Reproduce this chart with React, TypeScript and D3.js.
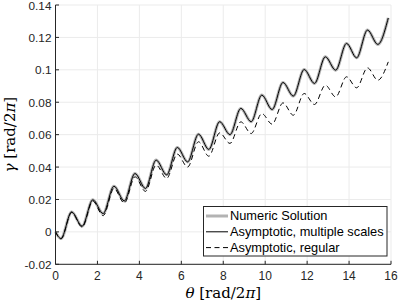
import React from 'react'
import * as d3 from 'd3'

const width = 399
const height = 305
const margin = { left: 55.5, right: 8, top: 5, bottom: 40.7 }

// theta positions of the curve extremes
const theta = [
  0, 0.26, 0.77, 1.27, 1.78, 2.27, 2.79, 3.28, 3.79, 4.29, 4.8, 5.3, 5.81, 6.3, 6.82, 7.31, 7.83, 8.32,
  8.84, 9.33, 9.84, 10.33, 10.85, 11.34, 11.86, 12.35, 12.87, 13.36, 13.88, 14.36, 14.88, 15.37, 15.87,
]
const numericGamma = [
  0, -0.0041, 0.0123, 0.0035, 0.0198, 0.0113, 0.0282, 0.0191, 0.036, 0.0268, 0.0443, 0.0352, 0.0521,
  0.0432, 0.0603, 0.0509, 0.068, 0.06, 0.0762, 0.068, 0.0844, 0.0755, 0.0922, 0.0838, 0.1002, 0.0916,
  0.108, 0.0998, 0.1163, 0.1074, 0.1245, 0.1157, 0.132,
]
const multiScaleGamma = [
  0, -0.0041, 0.0123, 0.0035, 0.0198, 0.0113, 0.0282, 0.0191, 0.036, 0.0268, 0.0443, 0.0352, 0.0521,
  0.0432, 0.0603, 0.0509, 0.068, 0.06, 0.0762, 0.068, 0.0844, 0.0755, 0.0922, 0.0838, 0.1002, 0.0916,
  0.108, 0.0998, 0.1163, 0.1074, 0.1245, 0.1157, 0.132,
]
const regularGamma = [
  0, -0.0043, 0.012, 0.003, 0.019, 0.01, 0.0268, 0.0178, 0.034, 0.025, 0.0412, 0.033, 0.048, 0.04,
  0.0556, 0.0467, 0.0611, 0.0546, 0.0679, 0.0607, 0.073, 0.0665, 0.0796, 0.072, 0.0854, 0.0786, 0.0905,
  0.0833, 0.0957, 0.0889, 0.1012, 0.0936, 0.1049,
]

const xTicks = [0, 2, 4, 6, 8, 10, 12, 14, 16]
const yTicks = [-0.02, 0, 0.02, 0.04, 0.06, 0.08, 0.1, 0.12, 0.14]
const legendLabels = ['Numeric Solution', 'Asymptotic, multiple scales', 'Asymptotic, regular']

const x = d3
  .scaleLinear()
  .domain([0, 16])
  .range([margin.left, width - margin.right])
const y = d3
  .scaleLinear()
  .domain([-0.02, 0.14])
  .range([height - margin.bottom, margin.top])

const line = d3
  .line<number>()
  .x((d, i) => x(theta[i]))
  .y((d) => y(d))
  .curve(d3.curveMonotoneX)

const axisColor = '#262626'
const sans = '"Liberation Sans", Arial, Helvetica, sans-serif'
const serif = '"DejaVu Serif", "Liberation Serif", serif'

export default function App() {
  const x0 = x.range()[0]
  const x1 = x.range()[1]
  const y0 = y.range()[0]
  const y1 = y.range()[1]

  const legend = { x: 203.5, y: 206.5, w: 183.5, h: 49.5 }
  const styles = [
    { stroke: '#b3b3b3', width: 3, dash: undefined },
    { stroke: '#000', width: 1, dash: undefined },
    { stroke: '#000', width: 1, dash: '5,3.5' },
  ]

  return (
    <div style={{ position: 'fixed', left: 0, top: 0 }}>
      <svg width={width} height={height} style={{ display: 'block', background: '#fff' }}>
        {xTicks.map((t) => (
          <line key={'gx' + t} x1={x(t)} x2={x(t)} y1={y0} y2={y1} stroke="#ebebeb" />
        ))}
        {yTicks.map((t) => (
          <line key={'gy' + t} x1={x0} x2={x1} y1={y(t)} y2={y(t)} stroke="#ebebeb" />
        ))}

        <path d={line(numericGamma) || ''} fill="none" stroke="#b3b3b3" strokeWidth={3} />
        <path d={line(multiScaleGamma) || ''} fill="none" stroke="#000" strokeWidth={1} />
        <path
          d={line(regularGamma) || ''}
          fill="none"
          stroke="#000"
          strokeWidth={1}
          strokeDasharray="5,3.5"
        />

        <line x1={x0} x2={x0} y1={y0} y2={y1} stroke={axisColor} />
        <line x1={x0} x2={x1} y1={y0} y2={y0} stroke={axisColor} />
        {xTicks.map((t) => (
          <g key={'tx' + t}>
            <line x1={x(t)} x2={x(t)} y1={y0} y2={y0 - 3.5} stroke={axisColor} />
            <text
              x={x(t)}
              y={y0 + 16}
              textAnchor="middle"
              fontFamily={sans}
              fontSize={12}
              fill={axisColor}
            >
              {t}
            </text>
          </g>
        ))}
        {yTicks.map((t) => (
          <g key={'ty' + t}>
            <line x1={x0} x2={x0 + 3.5} y1={y(t)} y2={y(t)} stroke={axisColor} />
            <text
              x={x0 - 4}
              y={y(t) + 4.6}
              textAnchor="end"
              fontFamily={sans}
              fontSize={11.8}
              fill={axisColor}
            >
              {t}
            </text>
          </g>
        ))}

        <text x={(x0 + x1) / 2} y={298} textAnchor="middle" fontFamily={serif} fontSize={15} fill="#000">
          <tspan fontStyle="italic">θ</tspan> [rad/2<tspan fontStyle="italic">π</tspan>]
        </text>
        <text
          transform={`translate(15,${(y0 + y1) / 2}) rotate(-90)`}
          textAnchor="middle"
          fontFamily={serif}
          fontSize={15}
          fill="#000"
        >
          <tspan fontStyle="italic">γ</tspan> [rad/2<tspan fontStyle="italic">π</tspan>]
        </text>

        <rect
          x={legend.x}
          y={legend.y}
          width={legend.w}
          height={legend.h}
          fill="#fff"
          stroke={axisColor}
          strokeWidth={1}
        />
        {legendLabels.map((label, i) => {
          const ly = 216 + i * 15.8
          const s = styles[i]
          return (
            <g key={label}>
              <line
                x1={206}
                x2={228}
                y1={ly}
                y2={ly}
                stroke={s.stroke}
                strokeWidth={s.width}
                strokeDasharray={s.dash}
              />
              <text x={230} y={ly + 4.3} fontFamily={sans} fontSize={12.8} fill="#000">
                {label}
              </text>
            </g>
          )
        })}
      </svg>
    </div>
  )
}
